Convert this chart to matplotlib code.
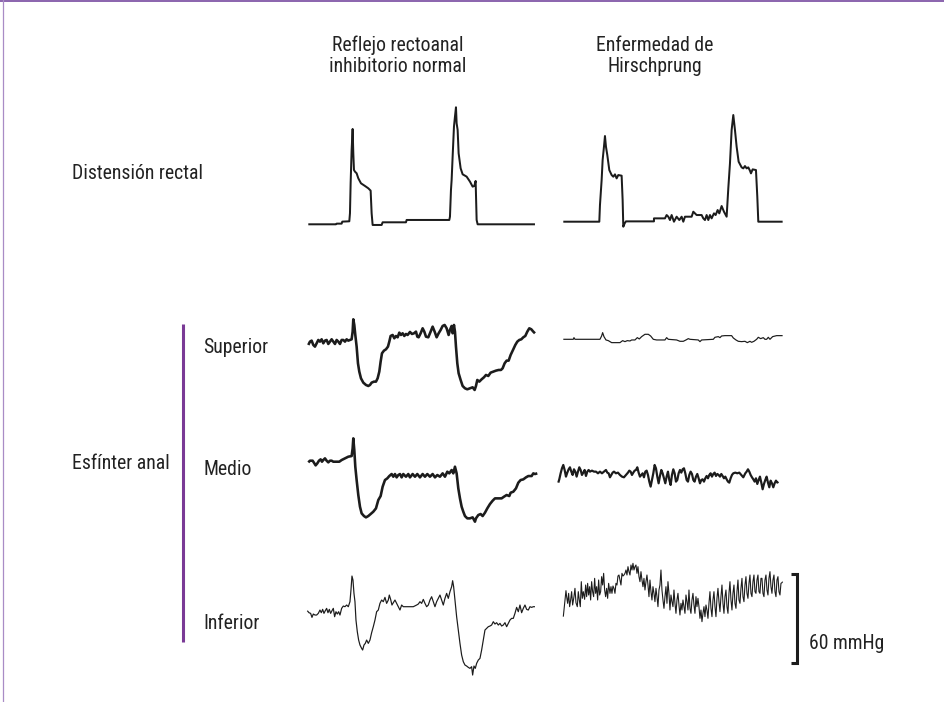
import numpy as np
import matplotlib
matplotlib.use("Agg")
import matplotlib.pyplot as plt
from matplotlib import font_manager as fm

# ---------------- data (time / pressure in recording units) ----------------
# 1 recording unit of time and pressure; 60 mmHg == 267 units
UNITS_PER_60MMHG = 267

NORMAL_DIST_T = [0, 83, 85, 100, 102, 123, 125, 127, 130, 133, 135, 137, 140, 145, 150, 158, 170, 180, 187, 190, 193,
                 220, 223, 293, 295, 423, 425, 428, 430, 433, 437, 440, 443, 445, 448, 451, 457, 463, 475, 485, 493,
                 498, 502, 505, 508, 680]
NORMAL_DIST_P = [0, 0, 2, 2, 8, 9, 33, 123, 223, 286, 213, 163, 158, 153, 138, 123, 115, 108, 101, 33, -2,
                 -2, 6, 6, 13, 13, 23, 103, 133, 203, 293, 323, 351, 303, 283, 213, 168, 150, 143, 128, 113,
                 115, 130, 13, 0, 0]

HIRSCH_DIST_T = [0, 108, 110, 115, 118, 122, 125, 128, 132, 138, 145, 150, 155, 160, 165, 175, 178, 180, 184, 188,
                 272, 272, 305, 310, 315, 320, 325, 332, 340, 348, 355, 360, 365, 385, 390, 400, 415, 420, 425, 430,
                 435, 440, 445, 452, 457, 463, 468, 475, 482, 490, 495, 500, 505, 510, 515, 520, 526, 535, 540, 545,
                 550, 555, 560, 563, 568, 578, 582, 585, 658]
HIRSCH_DIST_P = [0, 0, 50, 125, 185, 225, 257, 225, 200, 155, 140, 135, 142, 130, 140, 138, 65, -15, -5, 1,
                 1, 10, 10, 20, 15, 5, 20, 0, 15, 5, 15, 0, 15, 15, 30, 20, 20, 10, 5, 20,
                 5, 20, 10, 25, 20, 35, 25, 47, 30, 15, 100, 175, 275, 320, 275, 225, 180, 163, 160, 167,
                 160, 163, 153, 145, 157, 155, 75, 0, 0]

NORMAL_SUP_T = [0, 5, 10, 15, 20, 25, 30, 35, 40, 45, 50, 55, 60, 65, 70, 75, 80, 85, 90, 95, 100, 105, 110, 115,
                120, 125, 130, 133, 135, 138, 141, 145, 149, 153, 158, 165, 173, 180, 185, 190, 197, 203, 208, 213,
                217, 221, 227, 233, 239, 243, 247, 253, 258, 263, 268, 273, 278, 283, 288, 293, 298, 305, 311, 317,
                323, 327, 331, 337, 343, 348, 353, 360, 367, 373, 379, 385, 391, 397, 403, 409, 415, 421, 425, 430,
                433, 437, 440, 443, 447, 451, 457, 463, 470, 477, 485, 493, 499, 503, 507, 513, 520, 527, 533, 540,
                547, 555, 563, 571, 578, 583, 589, 595, 601, 607, 615, 621, 627, 633, 639, 645, 651, 657, 663, 669,
                675, 680]
NORMAL_SUP_P = [-5, 5, 8, -5, -10, 0, 10, 5, 12, 0, 8, 10, -2, 5, 12, 5, -2, 10, 5, -2, 10, 10, 5, 12,
                8, 10, 12, 35, 72, 55, 25, -10, -60, -85, -105, -118, -125, -128, -125, -118, -115, -115, -105, -85,
                -55, -30, -22, -18, -10, 5, 22, 25, 15, 22, 18, 32, 25, 30, 22, 28, 25, 34, 28, 30,
                35, 20, 18, 30, 45, 35, 20, 18, 35, 50, 35, 18, 30, 40, 52, 55, 45, 25, 40, 52,
                30, 55, 35, -10, -60, -90, -110, -128, -135, -138, -135, -132, -140, -128, -110, -115, -108, -102, -95, -98,
                -88, -85, -82, -80, -80, -75, -60, -52, -52, -35, -18, -5, 5, 10, 12, 18, 22, 35, 45, 42,
                35, 30]

HIRSCH_SUP_T = [0, 30, 32, 35, 110, 115, 118, 122, 128, 135, 145, 170, 178, 185, 192, 200, 205, 215, 222, 228,
                235, 245, 255, 262, 270, 280, 305, 310, 315, 340, 350, 360, 368, 375, 380, 405, 410, 415, 450, 455,
                465, 470, 475, 485, 505, 510, 518, 525, 535, 545, 552, 560, 565, 572, 580, 585, 592, 600, 605, 610,
                615, 620, 628, 640, 658]
HIRSCH_SUP_P = [0, 0, 5, 0, 0, 10, 20, 8, -2, -4, -10, -10, -4, -7, -4, -5, -2, -2, 5, 1,
                8, 15, 15, 10, 0, -2, -2, 5, 0, -2, -6, -6, -2, 2, 0, -2, -7, -2, 0, 6,
                8, 5, 10, 11, 11, 4, -2, -6, -7, -6, -10, -6, -9, -6, 0, 6, 2, 5, 0, 0,
                6, 0, 8, 11, 11]

NORMAL_MED_T = [0, 5, 13, 17, 22, 27, 32, 37, 41, 45, 50, 55, 60, 65, 70, 75, 85, 93, 100, 110, 120, 130, 133, 135,
                138, 141, 145, 150, 155, 160, 167, 173, 180, 187, 195, 203, 210, 217, 223, 230, 237, 243, 250, 255,
                260, 265, 270, 275, 280, 285, 293, 300, 305, 313, 320, 327, 335, 343, 350, 357, 365, 373, 380, 387,
                395, 403, 410, 417, 423, 430, 435, 440, 445, 450, 455, 460, 465, 470, 477, 485, 493, 500, 503, 510,
                517, 523, 530, 537, 545, 553, 560, 570, 580, 587, 595, 603, 607, 615, 623, 630, 637, 645, 653, 660,
                670, 675, 680, 687]
NORMAL_MED_P = [-2, 3, 3, -3, -11, -5, 3, 7, 0, 5, 10, 3, -2, 3, 3, 0, 0, 0, 5, 10, 15, 17, 40, 70,
                35, -15, -55, -100, -135, -155, -163, -167, -163, -157, -150, -140, -115, -103, -75, -55, -50, -43, -37, -45,
                -37, -47, -40, -37, -47, -37, -45, -37, -47, -37, -45, -37, -47, -37, -45, -37, -45, -37, -47, -40,
                -45, -35, -45, -30, -35, -25, -35, -15, -35, -80, -110, -135, -150, -163, -170, -170, -167, -180, -170, -160,
                -157, -163, -153, -140, -127, -117, -110, -110, -110, -105, -100, -103, -93, -90, -80, -63, -55, -53, -47, -43,
                -43, -35, -37, -35]

HIRSCH_MED_T = [0, 3, 7, 11, 15, 19, 23, 27, 31, 35, 39, 43, 47, 51, 55, 59, 63, 67, 71, 75, 79, 83, 87, 91, 95,
                101, 107, 113, 119, 125, 131, 137, 143, 147, 151, 155, 159, 163, 167, 173, 179, 185, 191, 197, 203,
                209, 213, 217, 221, 225, 229, 233, 237, 241, 245, 249, 253, 257, 261, 265, 269, 273, 277, 281, 285,
                289, 293, 297, 301, 305, 309, 313, 317, 321, 325, 329, 333, 337, 341, 345, 349, 353, 357, 361, 365,
                369, 373, 377, 381, 385, 389, 393, 397, 401, 405, 409, 413, 417, 421, 425, 429, 433, 437, 441, 445,
                449, 453, 457, 461, 465, 469, 473, 477, 481, 485, 489, 493, 497, 501, 505, 509, 513, 517, 521, 525,
                531, 537, 543, 549, 555, 561, 565, 569, 573, 577, 581, 585, 589, 593, 597, 601, 605, 609, 613, 617,
                621, 625, 629, 633, 637, 641, 645, 649, 653, 657, 660]
HIRSCH_MED_P = [-28, -18, 0, 15, 25, 10, -10, 2, 12, 18, 5, -5, 12, 5, -10, 5, 18, 10, -5, 2, 10, -8, 5, 10, 5,
                8, 5, 5, 0, 5, 0, 5, 10, 2, 0, -12, -5, 2, 5, 0, 2, -5, -10, -12, -5,
                2, 8, 5, -5, 2, 8, 10, 18, 2, -10, -5, 0, -12, 5, 8, -5, -25, -40, -20, 0,
                25, 15, -10, -30, -8, 10, 0, -15, -30, -10, 5, -20, -35, -5, 12, 0, -25, -20, 0, 10,
                2, 12, 15, 0, -20, -25, -5, 5, -2, -20, -25, -10, -2, -15, -30, -20, -18, -25, -15, -8,
                -15, -5, 0, -10, -2, 2, -8, -2, -5, -10, -2, -8, -15, -10, -18, -25, -28, -15, -5, 0,
                2, 0, 2, -5, -12, 0, 5, 12, 5, -5, -12, -18, -25, -15, -32, -20, -10, -28, -48, -32,
                -20, -10, -28, -42, -22, -30, -42, -30, -22, -28, -25]

NORMAL_INF_T = [0, 5, 10, 14, 18, 23, 28, 33, 38, 42, 46, 50, 54, 58, 62, 66, 70, 74, 78, 82, 86, 90, 94, 98,
                103, 108, 113, 118, 123, 128, 131, 134, 137, 140, 143, 146, 150, 154, 158, 163, 166, 170, 174, 178,
                183, 188, 193, 198, 203, 208, 213, 218, 223, 228, 233, 238, 243, 246, 250, 254, 258, 263, 268, 273,
                278, 283, 288, 298, 308, 318, 328, 333, 338, 343, 348, 353, 358, 363, 368, 373, 378, 383, 388, 393,
                398, 403, 408, 413, 418, 423, 428, 433, 436, 439, 443, 448, 453, 458, 463, 468, 473, 478, 483, 488,
                493, 496, 500, 504, 508, 513, 518, 523, 528, 533, 538, 543, 548, 553, 558, 563, 568, 573, 578, 583,
                588, 593, 598, 603, 608, 613, 618, 623, 628, 633, 638, 643, 648, 653, 658, 663, 668, 673, 678, 683]
NORMAL_INF_P = [3, -3, -5, -17, -7, -10, -10, -5, 5, -3, 7, -5, 3, 10, -3, 7, -5, 3, 10, -15, 0, -7, 0, -10,
                10, 17, 15, 20, 15, 30, 65, 107, 95, 55, 30, -25, -60, -85, -100, -110, -115, -100, -95, -85,
                -95, -85, -63, -45, -25, 0, 5, 25, 35, 30, 43, 25, 35, 50, 37, 20, 27, 35, 25, 15,
                5, 20, 15, 15, 15, 15, 20, 23, 30, 25, 37, 25, 15, 20, 35, 45, 30, 15, 30, 40,
                50, 35, 20, 40, 55, 40, 60, 75, 93, 75, 35, -15, -55, -95, -130, -150, -160, -163, -167, -170,
                -165, -190, -163, -170, -155, -145, -140, -115, -85, -55, -50, -45, -43, -40, -30, -37, -33, -40, -35, -43,
                -40, -33, -45, -35, -25, -20, -20, -5, 13, 0, 20, -3, 10, 20, 7, 5, 15, 13, 15, 15]

HIRSCH_INF_T = [0, 2, 5, 8, 10, 13, 16, 19, 22, 25, 28, 32, 35, 38, 42, 45, 48, 51, 54, 57, 60, 64, 67, 70, 73,
                76, 79, 82, 85, 88, 91, 94, 97, 100, 103, 106, 109, 112, 115, 118, 121, 124, 127, 130, 133, 136,
                140, 143, 146, 149, 152, 155, 158, 161, 164, 167, 170, 173, 176, 179, 182, 185, 188, 191, 194, 197,
                200, 203, 206, 209, 212, 215, 218, 221, 224, 227, 230, 233, 236, 239, 242, 245, 248, 251, 254, 257,
                260, 263, 266, 269, 272, 275, 278, 281, 284, 287, 290, 293, 296, 299, 302, 305, 308, 311, 314, 317,
                320, 323, 326, 329, 332, 335, 338, 341, 344, 347, 350, 353, 356, 359, 362, 365, 368, 371, 374, 377,
                380, 383, 386, 389, 392, 395, 398, 401, 404, 407, 410, 413, 416, 419, 422, 425, 428, 431, 434, 437,
                440, 443, 446, 449, 452, 455, 458, 461, 464, 467, 470, 473, 476, 479, 482, 485, 488, 491, 494, 497,
                500, 503, 506, 509, 512, 515, 518, 521, 524, 527, 530, 533, 536, 539, 542, 545, 548, 551, 554, 557,
                560, 563, 566, 569, 572, 575, 578, 581, 584, 587, 590, 593, 596, 599, 602, 605, 608, 611, 614, 617,
                620, 623, 626, 629, 632, 635, 638, 641, 644, 647, 650, 653, 656, 658]
HIRSCH_INF_P = [-50, -30, 0, 28, 10, -10, 20, -20, 0, 25, -15, 10, 35, -8, -20, 25, 0, -20, 55, 5, 25, 2, 45, 10, 50,
                15, 40, 0, 55, 25, 10, 65, 20, 40, 0, 60, 15, 25, 70, 45, 80, 30, 10, 35, 5, 50,
                20, 40, 20, 42, 35, 20, 50, 45, 72, 75, 60, 45, 80, 72, 75, 80, 90, 75, 100, 85,
                75, 105, 90, 110, 90, 100, 105, 80, 100, 70, 55, 85, 60, 40, 65, 30, 55, 75, 45, 10,
                60, 25, 0, 40, 20, -5, 35, 10, -20, 30, 45, 90, 30, 0, -25, 10, 40, -10, 55, 20,
                -30, 15, -5, -20, 30, -10, -40, 0, 20, -15, -45, -10, -30, 0, -20, -40, 15, -5, -30, 30,
                -25, -40, 0, 20, -15, -40, 10, -20, 5, -20, -55, -30, -65, -40, -20, -50, -15, -30, -55, -10,
                25, -25, -50, 0, 25, -20, -50, 5, 35, -5, -35, 10, 45, -10, -40, 10, 30, -20, -40, 20,
                55, 0, -30, 20, 45, -10, -25, 25, 60, 0, -10, 35, 65, 10, -5, 45, 70, 20, 5, 50,
                75, 20, 10, 55, 75, 25, 20, 60, 75, 25, 20, 65, 65, 20, 10, 60, 75, 30, 15, 65,
                85, 40, 20, 60, 75, 25, 10, 60, 70, 25, 15, 50, 52, 55]

ROW_LABELS = ["Superior", "Medio", "Inferior"]
COLUMN_TITLES = [["Reflejo rectoanal", "inhibitorio normal"], ["Enfermedad de", "Hirschprung"]]
SCALE_LABEL = "60 mmHg"

# ---------------- layout ----------------
W, H = 944, 702
PX_PER_UNIT = 1.0 / 3.0
INK = "#1c1c1c"


def pick_font():
    names = {f.name for f in fm.fontManager.ttflist}
    for fam in ["Liberation Sans Narrow", "Arial Narrow", "Roboto Condensed", "Nimbus Sans Narrow",
                "Open Sans Condensed", "Noto Sans Condensed", "DejaVu Sans Condensed"]:
        if fam in names:
            return dict(family=[fam, "DejaVu Sans"])
    for f in fm.fontManager.ttflist:
        if (f.stretch in ("condensed", "semi-condensed", "extra-condensed")
                and "Sans" in f.name and f.style == "normal" and f.weight in (400, "normal", "regular")
                and "Mono" not in f.name and "CJK" not in f.name):
            return dict(family=[f.name, "DejaVu Sans"], stretch=f.stretch)
    return dict(family=["Liberation Sans", "DejaVu Sans"])


FONT_KW = pick_font()

traces = [
    (NORMAL_DIST_T, NORMAL_DIST_P, 308.3, 224.3, 2.0),
    (HIRSCH_DIST_T, HIRSCH_DIST_P, 563.3, 221.7, 2.0),
    (NORMAL_SUP_T, NORMAL_SUP_P, 308.3, 343.3, 2.6),
    (HIRSCH_SUP_T, HIRSCH_SUP_P, 563.3, 339.3, 1.2),
    (NORMAL_MED_T, NORMAL_MED_P, 308.3, 461.7, 2.6),
    (HIRSCH_MED_T, HIRSCH_MED_P, 558.3, 473.3, 2.2),
    (NORMAL_INF_T, NORMAL_INF_P, 307.3, 611.7, 1.2),
    (HIRSCH_INF_T, HIRSCH_INF_P, 563.3, 600.0, 1.1),
]

fig = plt.figure(figsize=(W / 100, H / 100), dpi=100)
ax = fig.add_axes([0, 0, 1, 1])
ax.set_xlim(0, W)
ax.set_ylim(H, 0)
ax.axis("off")

# choose a font size so that "Distensión rectal" is ~130 px wide (as in the reference)
probe = ax.text(0, 0, "Distensión rectal", fontsize=10, **FONT_KW)
fig.canvas.draw()
probe_w = probe.get_window_extent(fig.canvas.get_renderer()).width
probe.remove()
FS = min(16.0, 10.0 * 130.0 / probe_w)

for T, P, x0, base, lw_px in traces:
    x = x0 + np.asarray(T, float) * PX_PER_UNIT
    y = base - np.asarray(P, float) * PX_PER_UNIT
    ax.plot(x, y, color=INK, lw=lw_px * 0.72, solid_joinstyle="round", solid_capstyle="butt")

# frame lines (top and left)
ax.plot([0, W], [1.0, 1.0], color="#8a63ad", lw=1.4)
ax.plot([3.0, 3.0], [0, H], color="#a98cc6", lw=0.9)

# purple bracket for anal sphincter
ax.plot([182.7, 182.7], [324, 641.7], color="#7a3a96", lw=2.2, solid_capstyle="butt")

# scale bar (60 mmHg)
bar_x, bar_top = 796.7, 574.0
bar_bot = bar_top + UNITS_PER_60MMHG * PX_PER_UNIT
ax.plot([bar_x - 6, bar_x, bar_x, bar_x - 6], [bar_top, bar_top, bar_bot, bar_bot],
        color=INK, lw=2.2, solid_joinstyle="miter", solid_capstyle="butt")

txt = dict(fontsize=FS, color="#222222", **FONT_KW)
ax.text(809.3, 649.3, SCALE_LABEL, ha="left", va="baseline", **txt)

# titles
for cx, lines in zip([398, 655], COLUMN_TITLES):
    ax.text(cx, 51, lines[0], ha="center", va="baseline", **txt)
    ax.text(cx, 72, lines[1], ha="center", va="baseline", **txt)

ax.text(71.7, 179.3, "Distensión rectal", ha="left", va="baseline", **txt)
ax.text(71.7, 469.3, "Esfínter anal", ha="left", va="baseline", **txt)
for lab, yb in zip(ROW_LABELS, [353.3, 475.0, 629.3]):
    ax.text(203.3, yb, lab, ha="left", va="baseline", **txt)

fig.savefig("out.png", dpi=100)
